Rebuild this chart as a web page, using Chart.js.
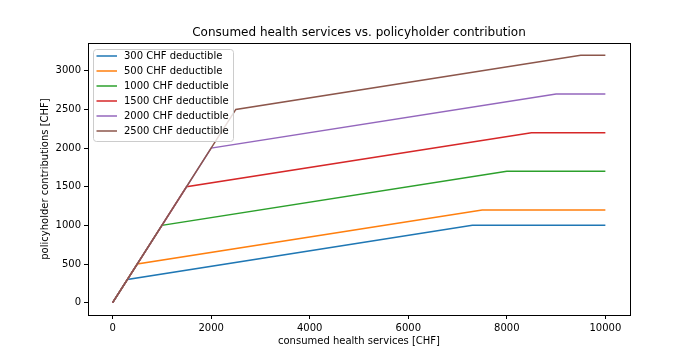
<!DOCTYPE html>
<html>
<head>
<meta charset="utf-8">
<script src="https://cdn.jsdelivr.net/npm/chart.js@4"></script>
<style>
  html, body { margin: 0; padding: 0; background: #fff; }
  #wrap { width: 700px; height: 360px; }
</style>
</head>
<body>
<div id="wrap"><canvas id="chart" width="700" height="360"></canvas></div>
<script>
// series labels and colours (matplotlib tab10)
const seriesLabels = ["300 CHF deductible", "500 CHF deductible", "1000 CHF deductible",
                      "1500 CHF deductible", "2000 CHF deductible", "2500 CHF deductible"];
const seriesColors = ["#1f77b4", "#ff7f0e", "#2ca02c", "#d62728", "#9467bd", "#8c564b"];

// breakpoints: consumed services -> contribution
const services300 = [0, 300, 7300, 10000];
const contrib300 = [0, 300, 1000, 1000];
const services500 = [0, 500, 7500, 10000];
const contrib500 = [0, 500, 1200, 1200];
const services1000 = [0, 1000, 8000, 10000];
const contrib1000 = [0, 1000, 1700, 1700];
const services1500 = [0, 1500, 8500, 10000];
const contrib1500 = [0, 1500, 2200, 2200];
const services2000 = [0, 2000, 9000, 10000];
const contrib2000 = [0, 2000, 2700, 2700];
const services2500 = [0, 2500, 9500, 10000];
const contrib2500 = [0, 2500, 3200, 3200];

const xTicks = [0, 2000, 4000, 6000, 8000, 10000];
const yTicks = [0, 500, 1000, 1500, 2000, 2500, 3000];

const chartTitle = "Consumed health services vs. policyholder contribution";
const xTitle = "consumed health services [CHF]";
const yTitle = "policyholder contributions [CHF]";

const allServices = [services300, services500, services1000, services1500, services2000, services2500];
const allContrib = [contrib300, contrib500, contrib1000, contrib1500, contrib2000, contrib2500];

const FONT = "'DejaVu Sans', sans-serif";

let datasets = seriesLabels.map((lab, i) => ({
  label: lab,
  data: allServices[i].map((x, j) => ({ x: x, y: allContrib[i][j] })),
  borderColor: seriesColors[i],
  backgroundColor: seriesColors[i],
  borderWidth: 1.5,
  pointRadius: 0,
  fill: false,
  tension: 0,
  order: seriesLabels.length - i, // last series on top, like matplotlib
}));

// frame, titles and legend box, placed like matplotlib does
const frameAndLegend = {
  id: "frameAndLegend",
  afterDatasetsDraw(chart) {
    const ctx = chart.ctx;
    const a = chart.chartArea;
    ctx.save();
    ctx.strokeStyle = "#000";
    ctx.lineWidth = 1;
    ctx.strokeRect(Math.round(a.left) + 0.5, Math.round(a.top) + 0.5,
                   Math.round(a.right - a.left), Math.round(a.bottom - a.top));

    // titles
    const cx = (a.left + a.right) / 2;
    ctx.fillStyle = "#000";
    ctx.textAlign = "center";
    ctx.textBaseline = "middle";
    ctx.font = "12px " + FONT;
    ctx.fillText(chartTitle, cx, 33);
    ctx.font = "10px " + FONT;
    ctx.fillText(xTitle, cx, 341);
    ctx.save();
    ctx.translate(45, (a.top + a.bottom) / 2);
    ctx.rotate(-Math.PI / 2);
    ctx.fillText(yTitle, 0, 0);
    ctx.restore();

    // legend
    ctx.textAlign = "left";
    const bx = a.left + 5, by = a.top + 6, bw = 140, bh = 92;
    ctx.fillStyle = "rgba(255,255,255,0.8)";
    ctx.strokeStyle = "#cccccc";
    ctx.beginPath();
    ctx.roundRect(bx + 0.5, by + 0.5, bw, bh, 3);
    ctx.fill();
    ctx.stroke();
    ctx.font = "10px " + FONT;
    chart.data.datasets.forEach((ds, i) => {
      const y = by + 7 + i * 15;
      ctx.strokeStyle = ds.borderColor;
      ctx.lineWidth = 1.5;
      ctx.beginPath();
      ctx.moveTo(bx + 3.5, y);
      ctx.lineTo(bx + 24, y);
      ctx.stroke();
      ctx.fillStyle = "#000";
      ctx.fillText(ds.label, bx + 31, y);
    });
    ctx.restore();
  }
};

new Chart(document.getElementById("chart"), {
  type: "line",
  data: { datasets: datasets },
  options: {
    responsive: false,
    animation: false,
    layout: { padding: { left: 0, right: 70, top: 43, bottom: 0 } },
    scales: {
      x: {
        type: "linear",
        min: -500,
        max: 10500,
        afterBuildTicks: (s) => { s.ticks = xTicks.map(v => ({ value: v })); },
        afterFit: (s) => { s.height = 45; },
        grid: { drawOnChartArea: false, drawTicks: true, tickLength: 4, color: "#000" },
        border: { display: false },
        ticks: { color: "#000", font: { family: FONT, size: 10 }, padding: 3, maxRotation: 0,
                 callback: (v) => String(v) }
      },
      y: {
        type: "linear",
        min: -160,
        max: 3360,
        afterBuildTicks: (s) => { s.ticks = yTicks.map(v => ({ value: v })); },
        afterFit: (s) => { s.width = 88; },
        grid: { drawOnChartArea: false, drawTicks: true, tickLength: 4, color: "#000" },
        border: { display: false },
        ticks: { color: "#000", font: { family: FONT, size: 10 }, padding: 3,
                 callback: (v) => String(v) }
      }
    },
    plugins: {
      legend: { display: false },
      tooltip: { enabled: false },
      title: { display: false }
    }
  },
  plugins: [frameAndLegend]
});
</script>
</body>
</html>
